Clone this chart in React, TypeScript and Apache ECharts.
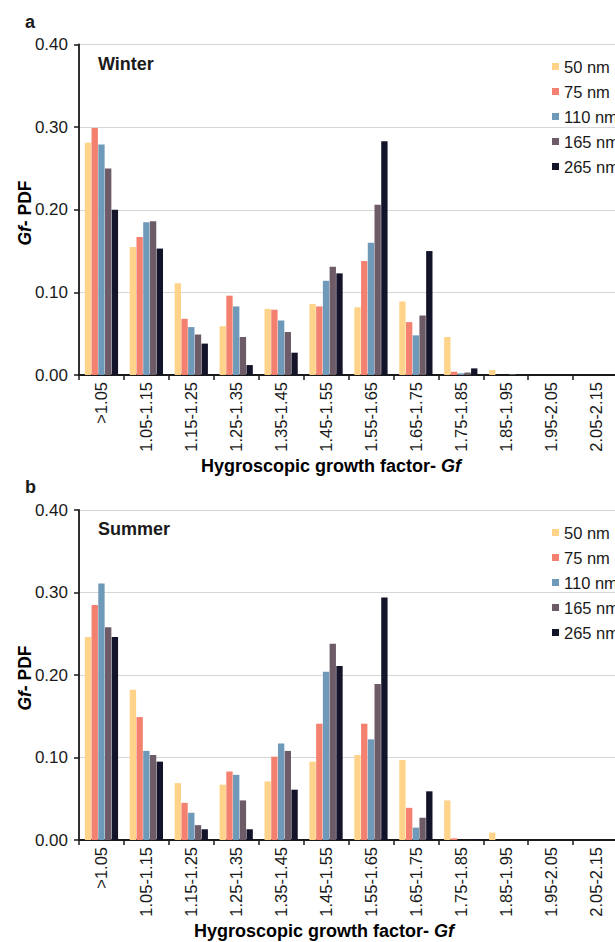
import React, { useEffect, useRef } from "react";
import * as echarts from "echarts";

const categories = [
  ">1.05", "1.05-1.15", "1.15-1.25", "1.25-1.35", "1.35-1.45", "1.45-1.55",
  "1.55-1.65", "1.65-1.75", "1.75-1.85", "1.85-1.95", "1.95-2.05", "2.05-2.15",
];
const sizes = ["50 nm", "75 nm", "110 nm", "165 nm", "265 nm"];
const colors = ["#FFD38A", "#F4816F", "#6F99B8", "#6D5B67", "#13132A"];

// Winter (panel a)
const winter50 = [0.281, 0.155, 0.111, 0.059, 0.080, 0.086, 0.082, 0.089, 0.046, 0.006, 0, 0];
const winter75 = [0.299, 0.167, 0.068, 0.096, 0.079, 0.083, 0.138, 0.064, 0.004, 0, 0, 0];
const winter110 = [0.279, 0.185, 0.058, 0.083, 0.066, 0.114, 0.160, 0.048, 0.002, 0, 0, 0];
const winter165 = [0.250, 0.186, 0.049, 0.046, 0.052, 0.131, 0.206, 0.072, 0.003, 0.001, 0, 0];
const winter265 = [0.200, 0.153, 0.038, 0.012, 0.027, 0.123, 0.283, 0.150, 0.008, 0, 0, 0];

// Summer (panel b)
const summer50 = [0.246, 0.182, 0.069, 0.067, 0.071, 0.095, 0.103, 0.097, 0.048, 0.009, 0, 0];
const summer75 = [0.285, 0.149, 0.045, 0.083, 0.101, 0.141, 0.141, 0.039, 0.002, 0, 0, 0];
const summer110 = [0.311, 0.108, 0.033, 0.079, 0.117, 0.204, 0.122, 0.015, 0, 0, 0, 0];
const summer165 = [0.258, 0.103, 0.018, 0.048, 0.108, 0.238, 0.189, 0.027, 0, 0, 0, 0];
const summer265 = [0.246, 0.095, 0.013, 0.013, 0.061, 0.211, 0.294, 0.059, 0.001, 0, 0, 0];

const yTicks = { min: 0, max: 0.4, interval: 0.1 };

const winterSeries = [winter50, winter75, winter110, winter165, winter265];
const summerSeries = [summer50, summer75, summer110, summer165, summer265];

const FONT = "'Liberation Sans', Arial, Helvetica, sans-serif";

export default function App() {
  const ref = useRef<HTMLDivElement>(null);
  useEffect(() => {
    if (!ref.current) return;
    const chart = echarts.init(ref.current, undefined, { renderer: "svg" });
    const grids = [
      { left: 79, top: 44.5, width: 539, height: 330.5 },
      { left: 79, top: 510, width: 539, height: 330 },
    ];
    const xAxis = grids.map((_, i) => ({
      type: "category",
      gridIndex: i,
      data: categories,
      boundaryGap: true,
      axisLine: { show: true, lineStyle: { color: "#1a1a1a", width: 1.8 } },
      axisTick: { show: true, length: 5, lineStyle: { color: "#1a1a1a", width: 1.5 } },
      axisLabel: {
        interval: 0,
        rotate: 90,
        margin: 7,
        fontSize: 16.5,
        color: "#1a1a1a",
        fontFamily: FONT,
      },
      splitLine: { show: false },
    }));
    const yAxis = grids.map((_, i) => ({
      type: "value",
      gridIndex: i,
      min: yTicks.min,
      max: yTicks.max,
      interval: yTicks.interval,
      axisLine: { show: true, lineStyle: { color: "#1a1a1a", width: 1.8 } },
      axisTick: { show: true, length: 5, lineStyle: { color: "#1a1a1a", width: 1.5 } },
      axisLabel: {
        margin: 11,
        fontSize: 17,
        color: "#1a1a1a",
        fontFamily: FONT,
        formatter: (v: number) => v.toFixed(2),
      },
      splitLine: { show: true, lineStyle: { color: "#d6d6d6", width: 1 } },
    }));
    const series: any[] = [];
    [winterSeries, summerSeries].forEach((group, gi) => {
      group.forEach((data, si) => {
        series.push({
          type: "bar",
          name: sizes[si],
          xAxisIndex: gi,
          yAxisIndex: gi,
          data,
          barGap: "6%",
          barCategoryGap: "26%",
          itemStyle: { color: colors[si], borderWidth: 0 },
        });
      });
    });
    const legendCommon = {
      orient: "vertical",
      left: 547,
      icon: "rect",
      itemWidth: 7,
      itemHeight: 7,
      itemGap: 8,
      data: sizes,
      textStyle: { fontSize: 16.5, lineHeight: 17, color: "#1a1a1a", fontFamily: FONT },
    };
    const boldText = (x: number, y: number, text: string, extra: any = {}) => ({
      type: "text",
      x,
      y,
      style: {
        text,
        fontSize: 18,
        fontWeight: "bold",
        fontFamily: FONT,
        fill: "#1a1a1a",
        align: "left",
        verticalAlign: "middle",
        ...extra,
      },
    });
    const richStyle = {
      b: { fontSize: 18, fontWeight: "bold", fontFamily: FONT, color: "#1a1a1a" },
      bi: { fontSize: 18, fontWeight: "bold", fontStyle: "italic", fontFamily: FONT, color: "#1a1a1a" },
    };
    const xTitle = (x: number, y: number) => ({
      type: "text",
      x,
      y,
      style: {
        text: "{b|Hygroscopic growth factor- }{bi|Gf}",
        rich: richStyle,
        align: "center",
        verticalAlign: "middle",
      },
    });
    const yTitle = (x: number, y: number) => ({
      type: "text",
      x,
      y,
      rotation: Math.PI / 2,
      style: {
        text: "{bi|Gf}{b|- PDF}",
        rich: { b: { ...richStyle.b, fontSize: 17.5 }, bi: { ...richStyle.bi, fontSize: 17.5 } },
        align: "center",
        verticalAlign: "middle",
      },
    });
    chart.setOption({
      animation: false,
      grid: grids,
      xAxis,
      yAxis,
      series,
      legend: [
        { ...legendCommon, top: 53 },
        { ...legendCommon, top: 519 },
      ],
      graphic: [
        boldText(25, 22, "a"),
        boldText(25, 487, "b"),
        boldText(98, 64, "Winter"),
        boldText(98, 529, "Summer"),
        xTitle(331, 466),
        xTitle(324, 931),
        yTitle(25, 213),
        yTitle(25, 678),
      ],
    });
    return () => chart.dispose();
  }, []);
  return (
    <div style={{ position: "absolute", left: 0, top: 0, width: 615, height: 942, overflow: "hidden", background: "#fff" }}>
      <div ref={ref} style={{ width: 640, height: 942 }} />
    </div>
  );
}
